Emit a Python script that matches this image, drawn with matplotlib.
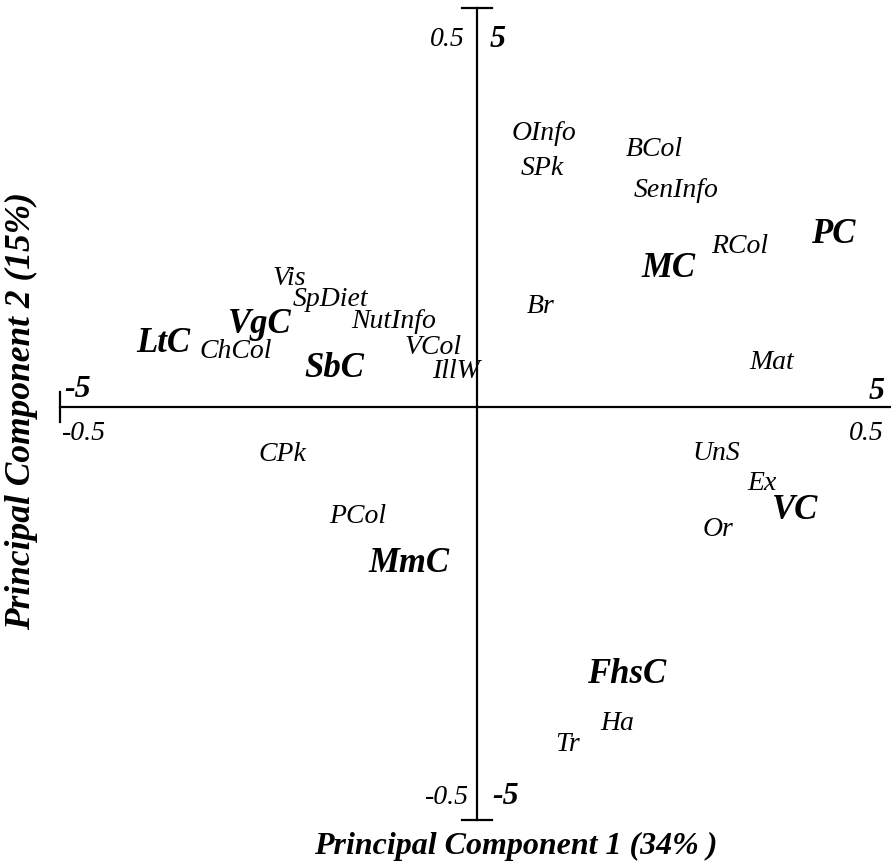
#!/usr/bin/env python3
"""PCA biplot: cuisines (scores) and attributes (loadings) on PC1 x PC2."""
import matplotlib

matplotlib.use("Agg")
import matplotlib.pyplot as plt

matplotlib.rcParams["font.family"] = ["Liberation Serif", "DejaVu Serif"]

# loadings (scale -0.5..0.5)
var_names = ["OInfo", "BCol", "SPk", "SenInfo", "RCol", "Br", "Mat",
             "Vis", "SpDiet", "NutInfo", "ChCol", "VCol", "IllW",
             "CPk", "PCol", "UnS", "Ex", "Or", "Ha", "Tr"]
var_pc1 = [0.080, 0.213, 0.078, 0.239, 0.315, 0.076, 0.353,
           -0.225, -0.176, -0.100, -0.289, -0.053, -0.025,
           -0.233, -0.143, 0.287, 0.342, 0.289, 0.168, 0.108]
var_pc2 = [0.337, 0.317, 0.294, 0.267, 0.198, 0.124, 0.055,
           0.158, 0.132, 0.105, 0.068, 0.073, 0.044,
           -0.059, -0.135, -0.057, -0.094, -0.151, -0.390, -0.416]

# scores (scale -5..5)
cui_names = ["PC", "MC", "VgC", "LtC", "SbC", "VC", "MmC", "FhsC"]
cui_pc1 = [4.27, 2.29, -2.61, -3.76, -1.71, 3.82, -0.82, 1.79]
cui_pc2 = [2.12, 1.71, 1.01, 0.78, 0.48, -1.28, -1.93, -3.30]

W, H = 891, 867
fig = plt.figure(figsize=(W / 100, H / 100), dpi=100)
ax = fig.add_axes([0, 0, 1, 1])
# pixel mapping: origin at (477, 407), 834 px per unit in x, 812 px per unit in y
ox, oy, sx, sy = 477, 407, 834, 812
ax.set_xlim(-ox / sx, (W - ox) / sx)
ax.set_ylim((oy - H) / sy, oy / sy)
ax.axis("off")

lw = 1.6
# axes lines with end caps
ax.plot([-0.5, 0.5], [0, 0], color="black", lw=lw)
ax.plot([0, 0], [-0.509, 0.491], color="black", lw=lw)
ax.plot([-0.5, -0.5], [-0.018, 0.018], color="black", lw=lw)
ax.plot([-0.018, 0.018], [0.491, 0.491], color="black", lw=lw)
ax.plot([-0.018, 0.018], [-0.509, -0.509], color="black", lw=lw)

for n, x, y in zip(var_names, var_pc1, var_pc2):
    ax.text(x, y, n, ha="center", va="center", style="italic", fontsize=20)

for n, x, y in zip(cui_names, cui_pc1, cui_pc2):
    ax.text(x / 10, y / 10, n, ha="center", va="center", style="italic",
            weight="bold", fontsize=25)

# tick labels
tk = dict(ha="center", va="center", style="italic")
ax.text(-0.479, 0.021, "-5", weight="bold", fontsize=23, **tk)
ax.text(-0.471, -0.033, "-0.5", fontsize=20, **tk)
ax.text(0.479, 0.019, "5", weight="bold", fontsize=23, **tk)
ax.text(0.467, -0.033, "0.5", fontsize=20, **tk)
ax.text(-0.036, 0.452, "0.5", fontsize=20, **tk)
ax.text(0.025, 0.452, "5", weight="bold", fontsize=23, **tk)
ax.text(-0.036, -0.481, "-0.5", fontsize=20, **tk)
ax.text(0.034, -0.480, "-5", weight="bold", fontsize=23, **tk)

ax.text(0.046, -0.541, "Principal Component 1 (34% )",
        weight="bold", fontsize=23, **tk)
ax.text(-0.546, -0.005, "Principal Component 2 (15%)",
        weight="bold", fontsize=25.5, rotation=90, **tk)

fig.savefig("out.png", dpi=100)
